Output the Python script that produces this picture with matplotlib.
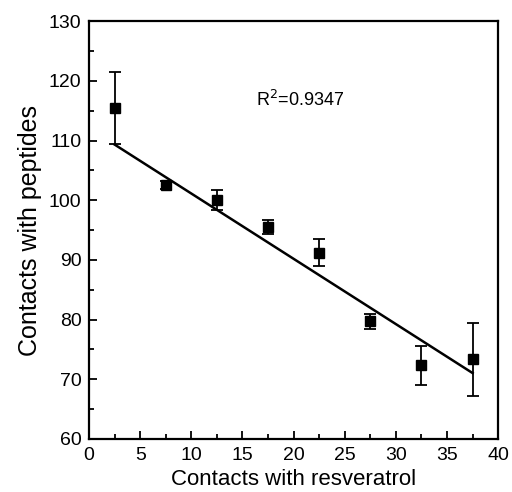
import matplotlib
matplotlib.use("Agg")
import matplotlib.pyplot as plt
import numpy as np
from matplotlib.ticker import MultipleLocator

plt.rcParams['font.family'] = ['Liberation Sans', 'DejaVu Sans']

# Mean contacts per bin of resveratrol contacts
resveratrol = [2.5, 7.5, 12.5, 17.5, 22.5, 27.5, 32.5, 37.5]
peptides = [115.4, 102.5, 100.0, 95.5, 91.2, 79.7, 72.3, 73.3]
errors = [6.0, 0.7, 1.7, 1.2, 2.3, 1.3, 3.3, 6.1]

# Linear fit
fit_slope = -1.094
fit_intercept = 112.05
r_squared = 0.9347

fig = plt.figure(figsize=(5.12, 4.92), dpi=100)
ax = fig.add_axes([0.174, 0.108, 0.799, 0.849])

ax.errorbar(resveratrol, peptides, yerr=errors, fmt='s', color='black',
            markersize=7.5, ecolor='black', elinewidth=1.3, capsize=4,
            capthick=1.3, zorder=3)

fx = np.array([resveratrol[0], resveratrol[-1]])
ax.plot(fx, fit_intercept + fit_slope * fx, color='black', lw=1.8, zorder=2)

ax.text(16.3, 116.8, f"R$^2$={r_squared:.4f}", fontsize=13, ha='left', va='center')

ax.set_xlim(0, 40)
ax.set_ylim(60, 130)
ax.xaxis.set_major_locator(MultipleLocator(5))
ax.xaxis.set_minor_locator(MultipleLocator(2.5))
ax.yaxis.set_major_locator(MultipleLocator(10))
ax.yaxis.set_minor_locator(MultipleLocator(5))
ax.tick_params(which='both', direction='in', top=False, right=False,
               labelsize=14, width=1.3)
ax.tick_params(which='major', length=6, pad=5.5)
ax.tick_params(which='minor', length=3.5)
for s in ax.spines.values():
    s.set_linewidth(1.6)

ax.set_xlabel("Contacts with resveratrol", fontsize=16, labelpad=4)
ax.set_ylabel("Contacts with peptides", fontsize=18, labelpad=5)

fig.savefig("out.png", dpi=100)
